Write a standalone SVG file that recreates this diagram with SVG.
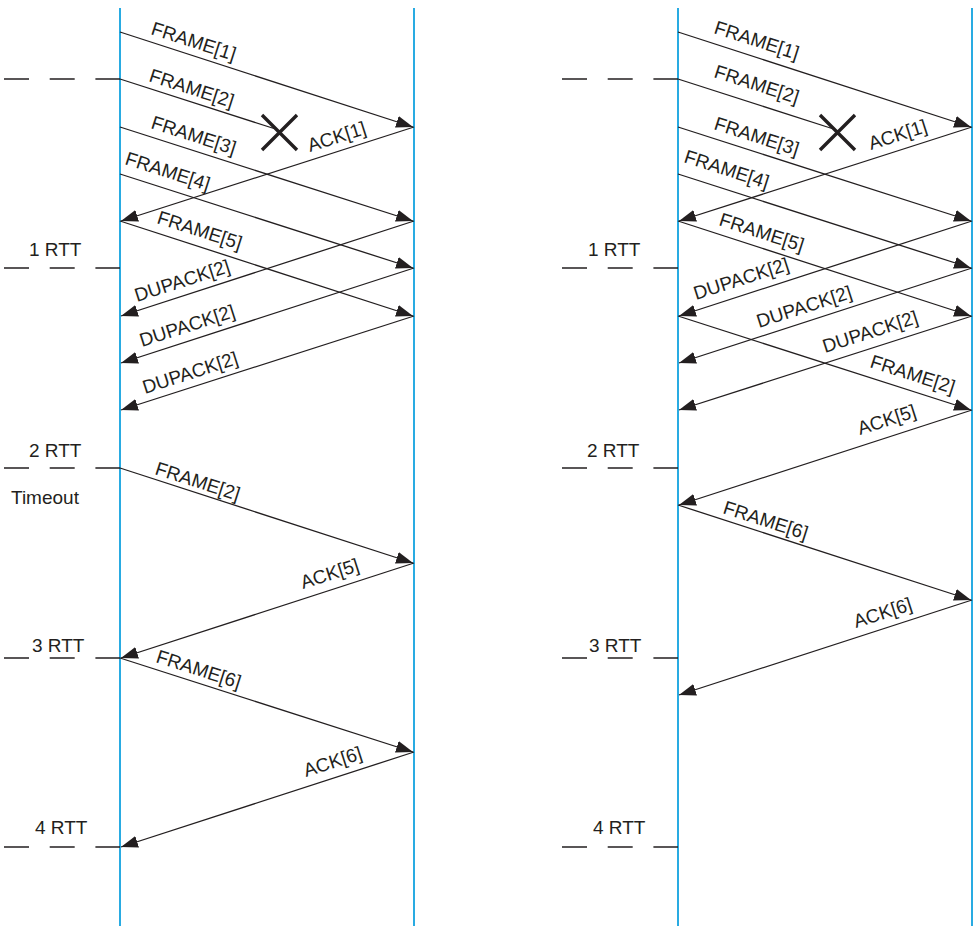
<svg xmlns="http://www.w3.org/2000/svg" width="973" height="926" viewBox="0 0 973 926">
<style>
.life{stroke:#29abe2;stroke-width:2;fill:none}
.msg{stroke:#231f20;stroke-width:1.3;fill:none}
.arr{marker-end:url(#ah)}
.tick{stroke:#231f20;stroke-width:1.3;stroke-dasharray:25 20.7;fill:none}
.x{stroke:#231f20;stroke-width:3.4;fill:none}
text{font-family:"Liberation Sans",Arial,sans-serif;font-size:19px;fill:#231f20}
</style>
<defs>
<marker id="ah" viewBox="0 0 17 12" refX="17" refY="6" markerWidth="17" markerHeight="12" markerUnits="userSpaceOnUse" orient="auto">
<path d="M0,0 L17,6 L0,12 z" fill="#231f20"/>
</marker>
</defs>
<rect width="973" height="926" fill="#ffffff"/>
<g id="left-sender"><line class="life" x1="120" y1="8" x2="120" y2="926"/></g>
<g id="left-receiver"><line class="life" x1="414" y1="8" x2="414" y2="926"/></g>
<g id="right-sender"><line class="life" x1="678" y1="8" x2="678" y2="926"/></g>
<g id="right-receiver"><line class="life" x1="972" y1="8" x2="972" y2="926"/></g>
<g id="time-ticks">
<line class="tick" x1="4" y1="79" x2="120" y2="79"/>
<line class="tick" x1="4" y1="268" x2="120" y2="268"/>
<line class="tick" x1="4" y1="468" x2="120" y2="468"/>
<line class="tick" x1="4" y1="658" x2="120" y2="658"/>
<line class="tick" x1="4" y1="847" x2="120" y2="847"/>
<line class="tick" x1="562" y1="79" x2="678" y2="79"/>
<line class="tick" x1="562" y1="268" x2="678" y2="268"/>
<line class="tick" x1="562" y1="468" x2="678" y2="468"/>
<line class="tick" x1="562" y1="658" x2="678" y2="658"/>
<line class="tick" x1="562" y1="847" x2="678" y2="847"/>
<text x="29" y="256">1 RTT</text>
<text x="29" y="457">2 RTT</text>
<text x="11" y="504">Timeout</text>
<text x="32" y="652">3 RTT</text>
<text x="35" y="834">4 RTT</text>
<text x="588" y="256">1 RTT</text>
<text x="587" y="457">2 RTT</text>
<text x="589" y="652">3 RTT</text>
<text x="593" y="834">4 RTT</text>
</g>
<g id="connectors">
<path class="msg arr" d="M120,32 L413,127"/>
<path class="msg" d="M120,79 L274,128.5"/>
<path class="msg arr" d="M120,127 L413,221"/>
<path class="msg arr" d="M120,174 L413,268"/>
<path class="msg arr" d="M414,127 L121,221"/>
<path class="msg arr" d="M120,221 L413,316"/>
<path class="msg arr" d="M414,221 L121,316"/>
<path class="msg arr" d="M414,268 L121,363"/>
<path class="msg arr" d="M414,316 L121,410"/>
<path class="msg arr" d="M120,468 L413,563"/>
<path class="msg arr" d="M414,563 L121,658"/>
<path class="msg arr" d="M120,658 L413,752"/>
<path class="msg arr" d="M414,752 L121,847"/>
<path class="msg arr" d="M678,32 L971,127"/>
<path class="msg" d="M678,79 L832,128.5"/>
<path class="msg arr" d="M678,127 L971,221"/>
<path class="msg arr" d="M678,174 L971,268"/>
<path class="msg arr" d="M972,127 L679,221"/>
<path class="msg arr" d="M678,221 L971,316"/>
<path class="msg arr" d="M972,221 L679,316"/>
<path class="msg arr" d="M972,268 L679,363"/>
<path class="msg arr" d="M972,316 L679,410"/>
<path class="msg arr" d="M678,316 L971,410"/>
<path class="msg arr" d="M972,410 L679,505"/>
<path class="msg arr" d="M678,505 L971,600"/>
<path class="msg arr" d="M972,600 L679,695"/>
</g>
<g id="loss-marks">
<path class="x" d="M262,115 L297,150 M297,115 L262,150"/>
<path class="x" d="M820,115 L855,150 M855,115 L820,150"/>
</g>
<g id="labels">
<text transform="translate(150,34) rotate(17.8)">FRAME[1]</text>
<text transform="translate(148,81) rotate(17.8)">FRAME[2]</text>
<text transform="translate(150,128) rotate(17.8)">FRAME[3]</text>
<text transform="translate(124,164) rotate(17.8)">FRAME[4]</text>
<text transform="translate(310,152) rotate(-17.8)">ACK[1]</text>
<text transform="translate(156,223) rotate(17.8)">FRAME[5]</text>
<text transform="translate(137,302) rotate(-17.8)">DUPACK[2]</text>
<text transform="translate(142,347) rotate(-17.8)">DUPACK[2]</text>
<text transform="translate(145,394) rotate(-17.8)">DUPACK[2]</text>
<text transform="translate(154,474) rotate(17.8)">FRAME[2]</text>
<text transform="translate(303,589) rotate(-17.8)">ACK[5]</text>
<text transform="translate(155,662) rotate(17.8)">FRAME[6]</text>
<text transform="translate(306,777) rotate(-17.8)">ACK[6]</text>
<text transform="translate(713,33) rotate(17.8)">FRAME[1]</text>
<text transform="translate(713,77) rotate(17.8)">FRAME[2]</text>
<text transform="translate(713,129) rotate(17.8)">FRAME[3]</text>
<text transform="translate(683,162) rotate(17.8)">FRAME[4]</text>
<text transform="translate(871,150) rotate(-17.8)">ACK[1]</text>
<text transform="translate(718,225) rotate(17.8)">FRAME[5]</text>
<text transform="translate(696,300) rotate(-17.8)">DUPACK[2]</text>
<text transform="translate(759,328) rotate(-17.8)">DUPACK[2]</text>
<text transform="translate(825,353) rotate(-17.8)">DUPACK[2]</text>
<text transform="translate(869,367) rotate(17.8)">FRAME[2]</text>
<text transform="translate(860,435) rotate(-17.8)">ACK[5]</text>
<text transform="translate(722,513) rotate(17.8)">FRAME[6]</text>
<text transform="translate(856,628) rotate(-17.8)">ACK[6]</text>
</g>
</svg>
